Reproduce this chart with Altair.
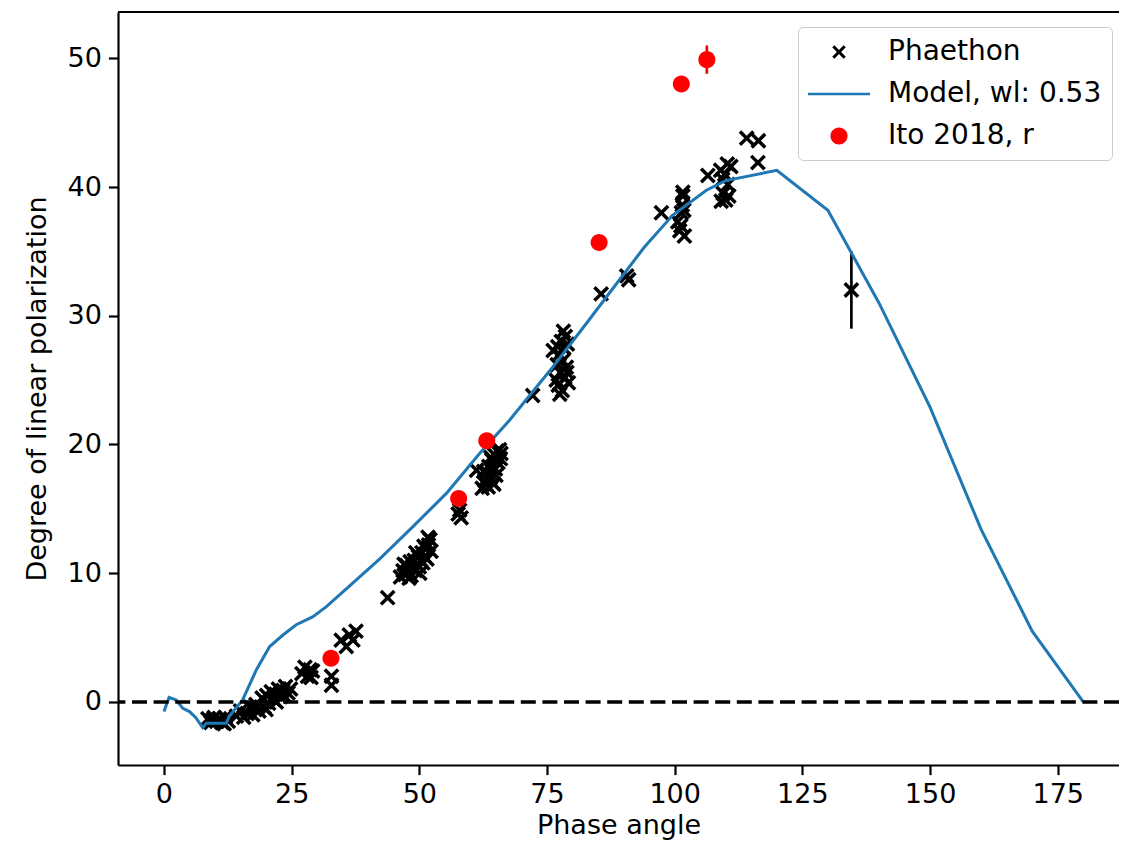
import altair as alt
import pandas as pd

# ---------------- data ----------------
phae_x = [
    8.6, 9.2, 9.8, 10.3, 10.9, 11.4, 12.0, 12.6, 9.5, 11.8,
    14.2, 15.0, 15.6, 16.3, 16.9, 17.4, 18.0, 18.6, 17.8,
    19.2, 19.6, 20.1, 20.5, 21.0, 21.4, 21.9, 22.4, 22.8, 23.3, 23.8, 24.3, 24.8, 20.0, 22.0, 23.5,
    27.0, 27.6, 28.1, 28.6, 29.1, 28.8,
    32.8, 32.8,
    34.7, 35.7, 36.3, 37.0, 37.6,
    43.8,
    46.3, 46.8, 47.2, 47.5, 47.9, 48.2, 48.4, 48.7, 49.0, 49.2,
    49.5, 49.8, 50.0, 50.3, 50.5, 50.7, 51.0, 51.3, 51.5, 51.8,
    52.1, 52.3, 48.0, 49.3, 50.9, 47.0, 50.1, 51.7,
    57.6, 57.9, 58.2,
    61.2, 62.3, 62.8, 63.0, 63.3, 63.6, 63.9, 64.2, 64.4, 64.7,
    64.9, 65.2, 65.4, 65.7, 65.9, 63.5, 64.0, 65.0, 64.6, 66.0, 62.6,
    72.2,
    76.2, 76.8, 77.0, 77.2, 77.4, 77.6, 77.8, 78.0, 78.1, 78.3,
    78.5, 78.6, 78.8, 79.0, 79.2, 77.5, 78.2, 78.9, 77.1,
    85.6,
    90.6, 91.0,
    97.4,
    100.6, 101.0, 101.3, 101.6, 101.5, 101.9, 101.2, 101.8, 101.6,
    106.5,
    109.0, 109.8, 110.4, 109.5, 110.0, 111.0, 109.4, 110.6, 109.1, 110.3,
    114.1, 116.4, 116.3,
    134.6,
]
phae_y = [
    -1.3, -1.6, -1.2, -1.5, -1.3, -1.6, -1.2, -1.5, -1.4, -1.7,
    -1.1, -0.7, -1.2, -0.9, -0.4, -1.0, -0.2, -0.7, -0.5,
    0.3, -0.4, 0.5, -0.1, 0.8, 0.2, 0.6, 1.0, 0.4, 0.9, 1.2, 0.7, 1.0, -0.6, 0.0, 0.5,
    2.2, 2.7, 2.0, 2.5, 2.4, 1.9,
    2.0, 1.3,
    4.8, 4.3, 5.2, 4.8, 5.5,
    8.1,
    9.7, 10.2, 9.9, 10.6, 10.1, 10.9, 9.8, 10.4, 11.0, 10.2,
    10.7, 11.3, 10.5, 11.0, 11.6, 10.8, 11.3, 11.9, 11.1, 12.2,
    12.6, 11.7, 9.6, 11.6, 12.1, 10.7, 10.0, 12.8,
    14.6, 14.9, 14.3,
    18.0, 16.6, 17.2, 16.9, 17.8, 18.3, 17.4, 18.8, 17.0, 19.2,
    18.1, 19.5, 18.6, 19.6, 18.9, 16.7, 19.0, 17.6, 16.9, 19.3, 17.9,
    23.8,
    27.3, 25.0, 26.2, 24.6, 27.0, 25.6, 28.0, 24.2, 26.5, 27.5,
    25.2, 28.4, 26.0, 27.8, 24.8, 23.9, 28.8, 25.6, 27.6,
    31.7,
    33.1, 32.8,
    38.0,
    37.3, 36.6, 38.0, 39.3, 38.6, 36.2, 37.0, 38.2, 39.6,
    40.9,
    41.3, 41.0, 40.2, 39.5, 39.0, 41.6, 40.6, 39.3, 38.9, 41.8,
    43.8, 43.6, 41.9,
    32.0,
]
# the one Phaethon point with a visible error bar
phae_err_x = [134.6]
phae_err_y = [32.0]
phae_err = [3.0]

model_x = [0, 1, 2.4, 3.7, 5, 6.2, 7.6, 8.3, 10, 12.2, 12.8, 15.4, 18.1, 20.7, 23.3,
           25.9, 29.1, 31.8, 36.3, 42.2, 48.7, 55.3, 61.8, 67.7, 76.1, 82.7, 89.2,
           94, 99.6, 106.2, 110, 120, 130, 140, 150, 160, 170, 180]
model_y = [-0.75, 0.35, 0.15, -0.5, -0.75, -1.2, -2.0, -1.65, -1.65, -1.65, -1.1, 0.15,
           2.5, 4.3, 5.2, 6.0, 6.6, 7.4, 9.0, 11.1, 13.6, 16.2, 19.3, 21.9, 26.0, 29.4,
           32.8, 35.3, 37.8, 39.75, 40.5, 41.3, 38.2, 31.0, 22.9, 13.4, 5.5, 0.0]

ito_x = [32.7, 57.7, 63.2, 85.2, 101.3, 106.3]
ito_y = [3.4, 15.8, 20.3, 35.7, 48.0, 49.9]
ito_err = [0.3, 0.3, 0.3, 0.4, 0.6, 1.1]

series_names = ["Phaethon", "Model, wl: 0.53", "Ito 2018, r"]
series_colors = ["#000000", "#1f77b4", "#ff0000"]

x_ticks = [0, 25, 50, 75, 100, 125, 150, 175]
y_ticks = [0, 10, 20, 30, 40, 50]

# ---------------- marker shapes (unit-square SVG paths) ----------------
a, d = 0.45, 0.14
X_PATH = (f"M0,{-d}L{a-d},{-a}L{a},{-a+d}L{d},0L{a},{a-d}L{a-d},{a}L0,{d}"
          f"L{-a+d},{a}L{-a},{a-d}L{-d},0L{-a},{-a+d}L{-a+d},{-a}Z")
LINE_PATH = "M-2.07,-0.09L2.07,-0.09L2.07,0.09L-2.07,0.09Z"
r = 0.57
CIRCLE_PATH = f"M{r},0A{r},{r} 0 1,1 {-r},0A{r},{r} 0 1,1 {r},0Z"

df_phae = pd.DataFrame({"angle": phae_x, "pol": phae_y})
df_phae["series"] = series_names[0]
df_phae_err = pd.DataFrame({"angle": phae_err_x, "pol": phae_err_y, "err": phae_err})
df_phae_err["lo"] = df_phae_err["pol"] - df_phae_err["err"]
df_phae_err["hi"] = df_phae_err["pol"] + df_phae_err["err"]
df_model = pd.DataFrame({"angle": model_x, "pol": model_y})
df_ito = pd.DataFrame({"angle": ito_x, "pol": ito_y, "err": ito_err})
df_ito["series"] = series_names[2]
df_ito["lo"] = df_ito["pol"] - df_ito["err"]
df_ito["hi"] = df_ito["pol"] + df_ito["err"]
df_zero = pd.DataFrame({"pol": [0.0]})

W, H = 1001, 753
FS = 27
x_scale = alt.Scale(domain=[-9, 187], nice=False, zero=False)
y_scale = alt.Scale(domain=[-4.9, 53.6], nice=False, zero=False)
x_axis = alt.Axis(values=x_ticks, title="Phase angle", titlePadding=5)
y_axis = alt.Axis(values=y_ticks, title="Degree of linear polarization", titlePadding=16)

color_scale = alt.Scale(domain=series_names, range=series_colors)
shape_scale = alt.Scale(domain=series_names, range=[X_PATH, LINE_PATH, CIRCLE_PATH])
legend = alt.Legend(
    title=None, orient="none", legendX=680, legendY=15,
    labelFont="DejaVu Sans", labelFontSize=28, labelColor="black", labelLimit=400,
    padding=10, rowPadding=13, symbolSize=900, symbolOffset=16, labelOffset=34,
    symbolStrokeWidth=0, strokeColor="#cccccc", fillColor="rgba(255,255,255,0.85)",
    cornerRadius=5, values=series_names,
)


def X(field="angle"):
    return alt.X(f"{field}:Q", scale=x_scale, axis=x_axis)


def Y(field="pol"):
    return alt.Y(f"{field}:Q", scale=y_scale, axis=y_axis)


color_enc = alt.Color("series:N", scale=color_scale, legend=legend)
shape_enc = alt.Shape("series:N", scale=shape_scale, legend=legend)

phae_pts = alt.Chart(df_phae).mark_point(filled=True, opacity=1, strokeWidth=0).encode(
    x=X(), y=Y(), color=color_enc, shape=shape_enc, size=alt.value(1250))

phae_bars = alt.Chart(df_phae_err).mark_rule(color="black", strokeWidth=2.7).encode(
    x=X(), y=Y("lo"), y2="hi:Q")

model_line = alt.Chart(df_model).mark_line(color="#1f77b4", strokeWidth=3).encode(
    x=X(), y=Y())

zero_line = alt.Chart(df_zero).mark_rule(color="black", strokeWidth=3.5,
                                          strokeDash=[15, 6.6]).encode(y=Y())

ito_bars = alt.Chart(df_ito).mark_rule(color="red", strokeWidth=2.7).encode(
    x=X(), y=Y("lo"), y2="hi:Q")

ito_pts = alt.Chart(df_ito).mark_point(filled=True, opacity=1, strokeWidth=0).encode(
    x=X(), y=Y(), color=color_enc, shape=shape_enc, size=alt.value(890))

top_frame = alt.Chart(df_zero).mark_rule(color="black", strokeWidth=2.2).encode(
    x=alt.value(0), x2=alt.value(W), y=alt.value(0))

chart = alt.layer(phae_pts, phae_bars, model_line, zero_line, ito_bars, ito_pts, top_frame).properties(
    width=W, height=H,
    padding={"left": 110, "top": 4, "right": 0, "bottom": 80},
    autosize=alt.AutoSizeParams(type="none"),
).configure(font="DejaVu Sans").configure_view(stroke=None).configure_axis(
    grid=False, domainColor="black", domainWidth=2.2, tickColor="black", tickWidth=2.2,
    tickSize=9.6, labelPadding=7, labelFont="DejaVu Sans", labelFontSize=FS,
    labelColor="black", titleFont="DejaVu Sans", titleFontSize=FS,
    titleFontWeight="normal", titleColor="black",
)

chart.save("out.html", embed_options={"renderer": "svg", "actions": False})
